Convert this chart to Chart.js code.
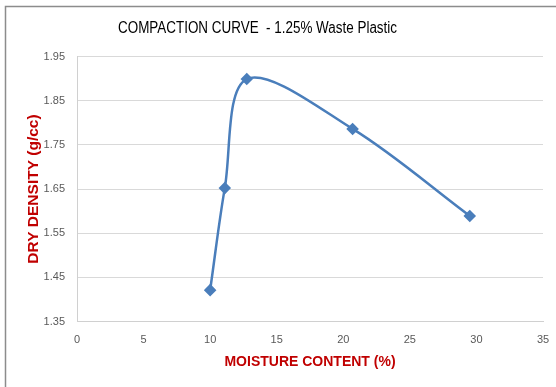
<!DOCTYPE html>
<html>
<head>
<meta charset="utf-8">
<script src="https://cdn.jsdelivr.net/npm/chart.js@4/dist/chart.umd.min.js"></script>
<style>
    html, body { margin: 0; padding: 0; background: #fff; }
    #wrap { position: relative; width: 556px; height: 387px; }
</style>
</head>
<body>
<div id="wrap"><canvas id="compactionChart"></canvas></div>
<script>
// Data
const moisture = [10.0, 11.1, 12.75, 20.7, 29.5];
const dryDensity = [1.421, 1.652, 1.899, 1.786, 1.589];
const xTicks = [0, 5, 10, 15, 20, 25, 30, 35];
const yTicks = [1.35, 1.45, 1.55, 1.65, 1.75, 1.85, 1.95];

const chartTitle = 'COMPACTION CURVE  - 1.25% Waste Plastic';
const xTitle = 'MOISTURE CONTENT (%)';
const yTitle = 'DRY DENSITY (g/cc)';

const points = moisture.map((m, i) => ({ x: m, y: dryDensity[i] }));

// Outer frame and title, placed like the Excel original
const framePlugin = {
    id: 'frame',
    beforeDraw(chart) {
        const ctx = chart.ctx;
        ctx.save();
        ctx.strokeStyle = '#8c8c8c';
        ctx.lineWidth = 1.5;
        ctx.strokeRect(5.5, 6.5, 620, 450);
        ctx.restore();
    },
    afterDraw(chart) {
        const ctx = chart.ctx;
        ctx.save();
        // Calibri is narrow, so squeeze Liberation Sans a bit
        ctx.translate(257.5, 28.5);
        ctx.scale(0.84, 1);
        ctx.font = '16px "Liberation Sans", Arial, sans-serif';
        ctx.fillStyle = '#000';
        ctx.textAlign = 'center';
        ctx.textBaseline = 'middle';
        ctx.fillText(chartTitle, 0, 0);
        ctx.restore();
    }
};

// keep the plot box fixed, whatever the edge labels want
function fixPadding(axis) {
    axis.paddingLeft = 0;
    axis.paddingRight = 0;
    axis.paddingTop = 0;
    axis.paddingBottom = 0;
}

const ctx = document.getElementById('compactionChart').getContext('2d');
new Chart(ctx, {
    type: 'scatter',
    data: {
        datasets: [{
            data: points,
            showLine: true,
            borderColor: '#4a7ebb',
            backgroundColor: '#4a7ebb',
            borderWidth: 2.5,
            tension: 0.33,
            pointStyle: 'rectRot',
            pointRadius: 4.5,
            pointHoverRadius: 4.5
        }]
    },
    options: {
        responsive: true,
        maintainAspectRatio: false,
        animation: false,
        layout: { padding: { left: 15, right: 13, top: 56.5, bottom: 0 } },
        plugins: {
            legend: { display: false },
            tooltip: { enabled: false },
            title: { display: false }
        },
        scales: {
            x: {
                type: 'linear',
                min: xTicks[0],
                max: xTicks[xTicks.length - 1],
                afterBuildTicks: axis => { axis.ticks = xTicks.map(v => ({ value: v })); },
                afterFit: axis => { axis.height = 65.5; fixPadding(axis); },
                grid: { display: false, drawTicks: false },
                border: { display: true, color: '#d0d0d0', width: 1 },
                ticks: {
                    padding: 12,
                    color: '#595959',
                    font: { family: '"Liberation Sans", Arial, sans-serif', size: 11 },
                    maxRotation: 0
                },
                title: {
                    display: true,
                    text: xTitle,
                    color: '#c00000',
                    font: { family: '"Liberation Sans", Arial, sans-serif', size: 14, weight: 'bold' },
                    padding: { top: 0, bottom: 16 }
                }
            },
            y: {
                type: 'linear',
                min: yTicks[0],
                max: yTicks[yTicks.length - 1],
                afterBuildTicks: axis => { axis.ticks = yTicks.map(v => ({ value: v })); },
                afterFit: axis => { axis.width = 62; fixPadding(axis); },
                grid: { color: '#d9d9d9', lineWidth: 1, drawTicks: false },
                border: { display: true, color: '#d0d0d0', width: 1 },
                ticks: {
                    padding: 12,
                    color: '#595959',
                    font: { family: '"Liberation Sans", Arial, sans-serif', size: 11 },
                    callback: v => Number(v).toFixed(2)
                },
                title: {
                    display: true,
                    text: yTitle,
                    color: '#c00000',
                    font: { family: '"Liberation Sans", Arial, sans-serif', size: 15.5, weight: 'bold' },
                    padding: { top: 9, bottom: 0 }
                }
            }
        }
    },
    plugins: [framePlugin]
});
</script>
</body>
</html>
